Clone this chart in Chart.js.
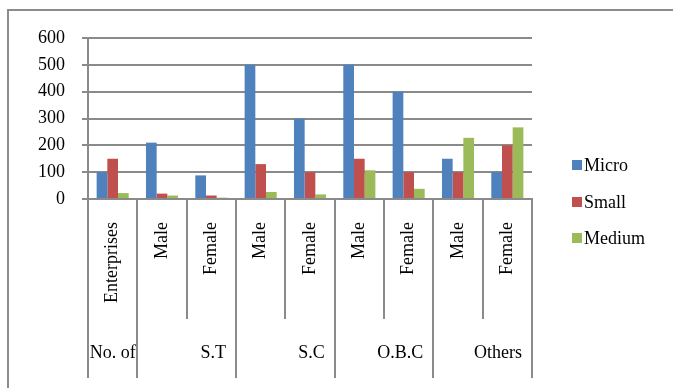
<!DOCTYPE html>
<html>
<head>
<meta charset="utf-8">
<script src="https://cdn.jsdelivr.net/npm/chart.js@4"></script>
<style>
  html, body { margin: 0; padding: 0; background: #fff; }
  #wrap { width: 673px; height: 388px; }
</style>
</head>
<body>
<div id="wrap"><canvas id="chart" width="673" height="388"></canvas></div>
<script>
const categories = ["Enterprises", "Male", "Female", "Male", "Female", "Male", "Female", "Male", "Female"];
const groupLabels = ["No. of", "S.T", "S.C", "O.B.C", "Others"];
const groupSpans = [1, 2, 2, 2, 2];
const micro = [100, 210, 88, 500, 300, 500, 400, 150, 100];
const small = [150, 20, 13, 130, 100, 150, 100, 100, 200];
const medium = [22, 13, 5, 26, 17, 107, 38, 228, 267];
const yTicks = [0, 100, 200, 300, 400, 500, 600];

const FONT = "'Liberation Serif'";
const LINE = "#8a8a8a";

// category separators, group labels, legend and outer frame
const extras = {
  id: "extras",
  afterDraw(chart) {
    const ctx = chart.ctx;
    const x = chart.scales.x;
    const step = x.getPixelForValue(1) - x.getPixelForValue(0);
    const edge = (i) => x.getPixelForValue(i) - step / 2;
    const bottom = chart.chartArea.bottom;

    const groupEnds = [];
    let acc = 0;
    groupSpans.forEach((s) => { acc += s; groupEnds.push(acc); });

    ctx.save();
    ctx.strokeStyle = LINE;
    ctx.lineWidth = 2;
    for (let i = 0; i <= categories.length; i++) {
      const full = i === 0 || groupEnds.includes(i);
      const px = Math.round(edge(i));
      ctx.beginPath();
      ctx.moveTo(px, bottom);
      ctx.lineTo(px, full ? 378 : 319);
      ctx.stroke();
    }

    // group labels
    ctx.fillStyle = "#000";
    ctx.font = "18px " + FONT;
    ctx.textBaseline = "middle";
    let start = 0;
    groupLabels.forEach((lab, g) => {
      const l = edge(start);
      const r = edge(start + groupSpans[g]);
      if (groupSpans[g] === 1) {
        ctx.textAlign = "center";
        ctx.fillText(lab, (l + r) / 2, 353);
      } else {
        ctx.textAlign = "right";
        ctx.fillText(lab, r - 10, 353);
      }
      start += groupSpans[g];
    });

    // legend
    const ys = [165, 202, 238];
    ctx.textAlign = "left";
    chart.data.datasets.forEach((ds, i) => {
      ctx.fillStyle = ds.backgroundColor;
      ctx.fillRect(572, ys[i] - 5, 10, 10);
      ctx.fillStyle = "#000";
      ctx.fillText(ds.label, 584, ys[i] + 1);
    });

    // outer frame (cropped at right and bottom)
    ctx.strokeStyle = "#8c8c8c";
    ctx.lineWidth = 2;
    ctx.beginPath();
    ctx.moveTo(8, 388);
    ctx.lineTo(8, 10);
    ctx.lineTo(673, 10);
    ctx.stroke();
    ctx.restore();
  }
};

function build() {
  new Chart(document.getElementById("chart"), {
    type: "bar",
    data: {
      labels: categories,
      datasets: [
        { label: "Micro", data: micro, backgroundColor: "#4F81BD" },
        { label: "Small", data: small, backgroundColor: "#C0504D" },
        { label: "Medium", data: medium, backgroundColor: "#9BBB59" }
      ]
    },
    options: {
      responsive: false,
      animation: false,
      layout: { padding: { left: 0, top: 38, right: 141, bottom: 0 } },
      datasets: { bar: { categoryPercentage: 0.65, barPercentage: 1 } },
      plugins: { legend: { display: false }, tooltip: { enabled: false } },
      scales: {
        x: {
          afterFit(scale) { scale.height = 189; },
          grid: { display: false, drawTicks: false },
          border: { display: true, color: LINE, width: 2 },
          ticks: {
            minRotation: 90,
            maxRotation: 90,
            autoSkip: false,
            padding: 23,
            color: "#000",
            font: { family: FONT, size: 18 }
          }
        },
        y: {
          min: 0,
          max: 600,
          afterFit(scale) { scale.width = 88; },
          afterBuildTicks(scale) { scale.ticks = yTicks.map((v) => ({ value: v })); },
          grid: { color: LINE, lineWidth: 2, tickLength: 6 },
          border: { display: true, color: LINE, width: 2 },
          ticks: {
            padding: 17,
            color: "#000",
            font: { family: FONT, size: 18 }
          }
        }
      }
    },
    plugins: [extras]
  });
}

document.fonts.load("18px 'Liberation Serif'").then(build, build);
</script>
</body>
</html>
